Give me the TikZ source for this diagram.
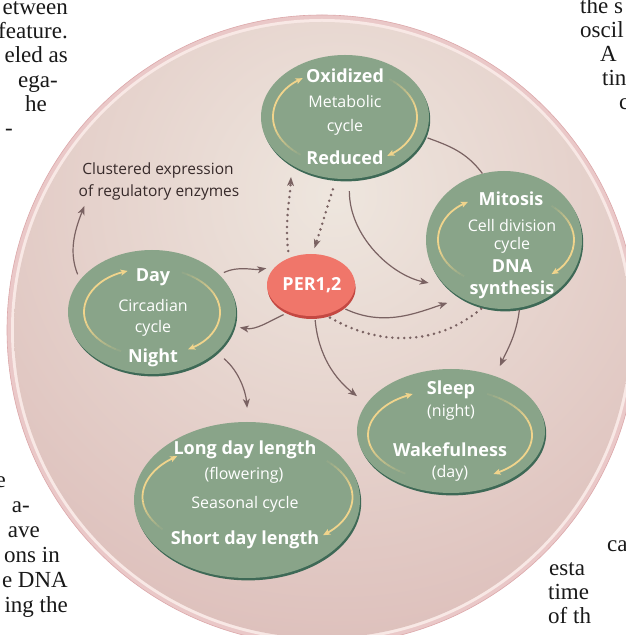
\documentclass[tikz,border=0pt]{standalone}
\usepackage{fontspec}
\setmainfont{Open Sans}
\newfontfamily\pagefont{Liberation Serif}
\usetikzlibrary{arrows.meta,shapes.geometric,shadows}

\definecolor{gfill}{RGB}{137,164,137}
\definecolor{gdark}{RGB}{62,105,86}
\definecolor{pfill}{RGB}{240,118,106}
\definecolor{pdark}{RGB}{196,72,66}
\definecolor{arr}{RGB}{122,98,98}
\definecolor{yel}{RGB}{240,212,140}
\definecolor{bgin}{RGB}{238,230,222}
\definecolor{bgout}{RGB}{212,170,168}
\definecolor{ring}{RGB}{234,200,200}
\definecolor{ringline}{RGB}{220,168,170}
\definecolor{ringin}{RGB}{248,232,229}
\definecolor{txt}{RGB}{55,42,42}
\definecolor{pagetxt}{RGB}{25,25,25}

\tikzset{
  gell/.style={ellipse, fill=gfill, inner sep=0pt,
    drop shadow={shadow xshift=1.2pt, shadow yshift=-2.4pt, fill=gdark, opacity=1}},
  pell/.style={ellipse, fill=pfill, inner sep=0pt,
    drop shadow={shadow xshift=0.6pt, shadow yshift=-3pt, fill=pdark, opacity=1}},
  wb/.style={text=white, font=\bfseries\fontsize{18}{20}\selectfont, anchor=base, inner sep=0pt},
  wr/.style={text=white, font=\fontsize{16}{18}\selectfont, anchor=base, inner sep=0pt},
  clt/.style={text=txt, font=\fontsize{15.5}{18}\selectfont, anchor=base, inner sep=0pt},
  pgl/.style={text=pagetxt, font=\pagefont\fontsize{23}{24}\selectfont, inner sep=0pt},
  conn/.style={draw=arr, line width=1.2pt, -{Stealth[length=9pt,width=7pt,inset=2.5pt]}},
  dotl/.style={draw=arr, line width=2.8pt, line cap=round, dash pattern=on 0pt off 6pt},
  dotarr/.style={dotl, -{Stealth[length=9pt,width=7pt,inset=2.5pt,line width=0pt]}},
  yarc/.style={draw=yel, line width=1.8pt},
}

\newcommand\yellowarc[6]{%
  \pgfmathsetmacro\yspn{#6-#5}%
  \foreach \k in {0,...,9}{%
    \pgfmathsetmacro\ya{#5+\yspn*0.04*\k}%
    \pgfmathsetmacro\yb{#5+\yspn*0.04*(\k+1)}%
    \pgfmathsetmacro\yo{0.1*(\k+1)}%
    \draw[yarc, draw opacity=\yo] ([shift={(#1,#2)}]\ya:#3 and #4) arc[start angle=\ya, end angle=\yb, x radius=#3, y radius=#4];
  }%
  \pgfmathsetmacro\yc{#5+\yspn*0.4}%
  \draw[yarc, -{Stealth[length=7pt,width=6pt,inset=1.5pt]}] ([shift={(#1,#2)}]\yc:#3 and #4) arc[start angle=\yc, end angle=#6, x radius=#3, y radius=#4];
}

\begin{document}
\begin{tikzpicture}[x=1pt,y=1pt]
\useasboundingbox (0,0) rectangle (625,635);
\fill[white] (0,0) rectangle (625,635);

% fragments of the page text around the figure
\node[pgl, anchor=base east] (l1) at (68,620) {etween};
\node[pgl, anchor=base east] (l2) at (68,596) {feature.};
\node[pgl, anchor=base east] (l3) at (68,572) {eled as};
\node[pgl, anchor=base east] (l4) at (58,547) {ega-};
\node[pgl, anchor=base east] (l5) at (47,523) {he};
\node[pgl, anchor=base east] (l6) at (13,499) {-};
\node[pgl, anchor=base west] (r1) at (580,621) {the s};
\node[pgl, anchor=base west] (r2) at (580,597) {oscil};
\node[pgl, anchor=base west] (r3) at (600,573) {A};
\node[pgl, anchor=base west] (r4) at (602,549) {tin};
\node[pgl, anchor=base west] (r5) at (619,525) {c};
\node[pgl, anchor=base east] (b0) at (6,147) {e};
\node[pgl, anchor=base east] (b1) at (30,122) {a-};
\node[pgl, anchor=base east] (b2) at (40,97) {ave};
\node[pgl, anchor=base east] (b3) at (60,72) {ons in};
\node[pgl, anchor=base east] (b4) at (68,47) {e DNA};
\node[pgl, anchor=base east] (b5) at (68,22) {ing the};
\node[pgl, anchor=base west] (s1) at (607,83) {ca};
\node[pgl, anchor=base west] (s2) at (549,59) {esta};
\node[pgl, anchor=base west] (s3) at (548,35) {time};
\node[pgl, anchor=base west] (s4) at (548,11) {of th};

% big round background
\fill[ring, draw=ringline, line width=0.6pt] (322,305) circle (315);
\fill[ringin] (322,305) circle (311);
\begin{scope}
  \clip (322,305) circle (308);
  \shade[inner color=bgin, outer color=bgout] (335,440) circle (720);
\end{scope}

% cycle discs
\node[gell, minimum width=168pt, minimum height=124pt] (met) at (345,518) {};
\node[gell, minimum width=156pt, minimum height=138pt] (cell) at (504,395) {};
\node[gell, minimum width=168pt, minimum height=124pt] (circ) at (152,323) {};
\node[gell, minimum width=188pt, minimum height=124pt] (sleep) at (451,204) {};
\node[gell, minimum width=226pt, minimum height=156pt] (seas) at (247,135) {};
\node[pell, minimum width=88pt, minimum height=62pt] (per) at (311,350) {};

% yellow cycle arrows
\yellowarc{345}{518}{72}{48}{232}{126}
\yellowarc{345}{518}{72}{48}{52}{-54}
\yellowarc{506}{395}{68}{46}{232}{124}
\yellowarc{506}{395}{68}{46}{48}{-48}
\yellowarc{152}{323}{68}{44}{243}{111}
\yellowarc{152}{323}{68}{44}{64}{-58}
\yellowarc{450}{200}{82}{46}{237}{117}
\yellowarc{450}{200}{82}{46}{63}{-58}
\yellowarc{247.5}{138}{105}{55}{216}{132}
\yellowarc{247.5}{138}{105}{55}{41}{-44}

% texts
\node[wb] (metA) at (345,552) {Oxidized};
\node[wr] (metB) at (345,527) {Metabolic};
\node[wr] (metC) at (345,503) {cycle};
\node[wb] (metD) at (345,470) {Reduced};

\node[wb] (cellA) at (511,429) {Mitosis};
\node[wr] (cellB) at (512,403) {Cell division};
\node[wr] (cellC) at (512,385) {cycle};
\node[wb] (cellD) at (512,362) {DNA};
\node[wb] (cellE) at (512,340) {synthesis};

\node[wb] (circA) at (153,353) {Day};
\node[wr] (circB) at (153,323) {Circadian};
\node[wr] (circC) at (153,302) {cycle};
\node[wb] (circD) at (153,272) {Night};

\node[wb] (sleepA) at (451,240) {Sleep};
\node[wr] (sleepB) at (451,218) {(night)};
\node[wb] (sleepC) at (450,178) {Wakefulness};
\node[wr] (sleepD) at (450,157) {(day)};

\node[wb] (seasA) at (245,180) {Long day length};
\node[wr] (seasB) at (244,155) {(flowering)};
\node[wr] (seasC) at (245,126) {Seasonal cycle};
\node[wb] (seasD) at (245,90) {Short day length};

\node[wb] (perA) at (312,344) {PER1,2};

\node[clt] (clu1) at (158,460) {Clustered expression};
\node[clt] (clu2) at (159,438) {of regulatory enzymes};

% connectors
\draw[conn, shorten <=6pt] (circ.156) to[out=112,in=248] ([xshift=6pt,yshift=-5pt]clu2.south west);
\draw[conn, shorten <=5pt, shorten >=9pt] (circ.29) to[out=25,in=190] (per.153);
\draw[conn, shorten <=6pt, shorten >=6pt] (per.231) to[out=205,in=-10] (circ.350);
\draw[conn, shorten <=10pt, shorten >=14pt] (circ.-32) to[out=-40,in=95] (seas.89);
\draw[conn, shorten <=4pt, shorten >=12pt] (per.-83) to[out=-85,in=142] (sleep.162);
\draw[conn, shorten <=4pt, shorten >=15pt] (per.-36) to[out=-25,in=198] (cell.234);
\draw[dotl, shorten <=6pt, shorten >=3pt] (per.-65) to[out=-30,in=220] (cell.253);
\draw[conn, shorten <=12pt, shorten >=18pt] (met.-86) to[out=-90,in=168] (cell.219);
\draw[draw=arr, line width=1.2pt, shorten <=3pt] (met.-14) to[out=-20,in=127] (cell.108);
\draw[conn, shorten <=2pt, shorten >=11pt] (cell.-77) to[out=-97,in=66] (sleep.51);
\draw[dotarr, shorten <=7pt, shorten >=12pt] (per.129) to[out=97,in=-93] (met.222);
\draw[dotarr, shorten <=11pt, shorten >=6pt] (met.262) to[out=-108,in=72] (per.87);
\end{tikzpicture}
\end{document}
